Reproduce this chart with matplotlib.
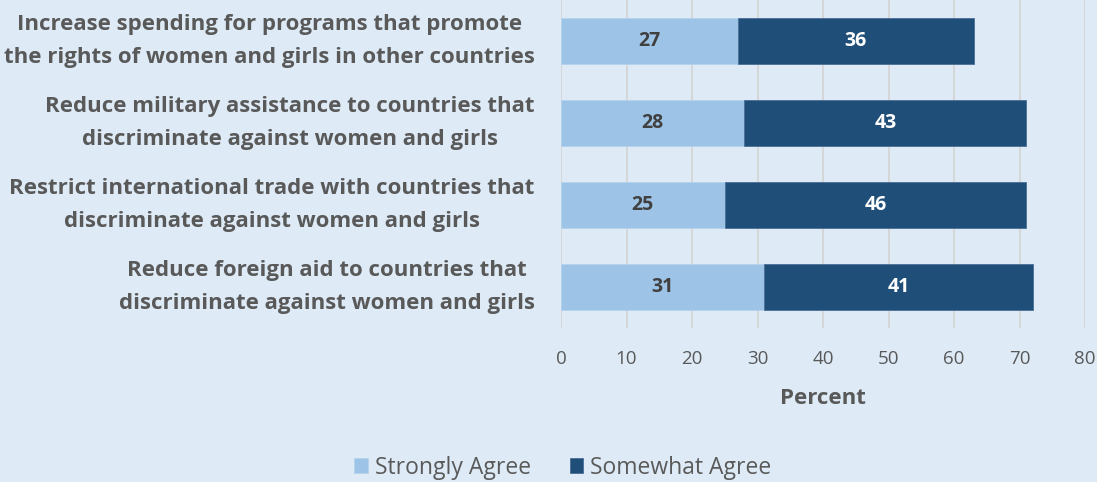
import matplotlib.pyplot as plt
import numpy as np

categories = [
    "Increase spending for programs that promote\nthe rights of women and girls in other countries",
    "Reduce military assistance to countries that\ndiscriminate against women and girls",
    "Restrict international trade with countries that\ndiscriminate against women and girls",
    "Reduce foreign aid to countries that\ndiscriminate against women and girls",
]
strongly = [27, 28, 25, 31]
somewhat = [36, 43, 46, 41]
xticks = [0, 10, 20, 30, 40, 50, 60, 70, 80]

bg = "#DEEBF7"
light = "#9DC3E6"
dark = "#1F4E79"
gray = "#595959"

plt.rcParams['font.family'] = ['Open Sans', 'DejaVu Sans']

fig = plt.figure(figsize=(10.97, 4.82), dpi=100, facecolor=bg)
ax = fig.add_axes([0.5114, 0.3195, 0.4777, 0.6805], facecolor=bg)

y = np.arange(len(categories))
h = 0.57
b1 = ax.barh(y, strongly, height=h, color=light, edgecolor="#B4D2EE", linewidth=0.6, label="Strongly Agree", zorder=3)
b2 = ax.barh(y, somewhat, left=strongly, height=h, color=dark, edgecolor="#4A6F96", linewidth=0.6, label="Somewhat Agree", zorder=3)

for i in range(len(categories)):
    ax.text(strongly[i] / 2, y[i], str(strongly[i]), ha='center', va='center',
            fontsize=14, fontweight='bold', color="#404040", zorder=4)
    ax.text(strongly[i] + somewhat[i] / 2, y[i], str(somewhat[i]), ha='center', va='center',
            fontsize=14, fontweight='bold', color="white", zorder=4)

ax.set_xlim(0, 80)
ax.set_ylim(3.5, -0.5)
ax.set_xticks(xticks)
ax.set_xticklabels([str(t) for t in xticks], fontsize=13.5, color=gray)
ax.set_yticks(y)
ax.set_yticklabels([])
for i, cat in enumerate(categories):
    ax.annotate(cat, xy=(0, y[i]), xycoords=('axes fraction', 'data'),
                xytext=(-19, 0), textcoords='offset points',
                ha='right', va='center', multialignment='center', linespacing=1.75,
                fontsize=16, fontweight='bold', color=gray, annotation_clip=False)
ax.tick_params(axis='both', length=0)
ax.tick_params(axis='x', pad=16)
ax.grid(axis='x', color="#D4D4D4", linewidth=1.3, zorder=0)
ax.set_axisbelow(True)
for s in ax.spines.values():
    s.set_visible(False)
ax.set_xlabel("Percent", fontsize=16, fontweight='bold', color=gray, labelpad=14)

leg = fig.legend(handles=[b1, b2], loc='center', bbox_to_anchor=(0.513, 0.03), ncol=2,
                 frameon=False, fontsize=16.5, handlelength=0.6, handleheight=0.6,
                 handletextpad=0.3, columnspacing=1.7, labelcolor=gray)

fig.savefig("out.png", dpi=100, facecolor=bg)
